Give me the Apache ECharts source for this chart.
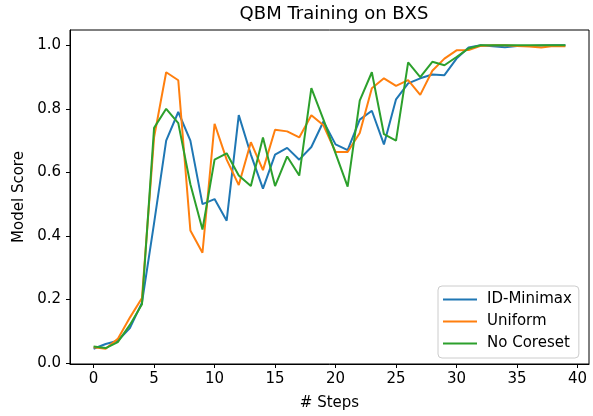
<!DOCTYPE html>
<html>
<head>
    <meta charset="UTF-8">
    <title>QBM Training on BXS</title>
    <style>
        html, body { margin: 0; padding: 0; background: #fff; }
        #chart { width: 593px; height: 416px; }
    </style>
    <script src="https://cdn.jsdelivr.net/npm/echarts@6/dist/echarts.min.js"></script>
</head>
<body>
<div id="chart"></div>
<script>
    // x ticks and y ticks
    var xTicks = [0, 5, 10, 15, 20, 25, 30, 35, 40];
    var yTicks = [0, 0.2, 0.4, 0.6, 0.8, 1.0];

    var steps = [];
    for (var i = 0; i < 40; i++) steps.push(i);

    var idMinimax = [0.045, 0.06, 0.07, 0.11, 0.19, 0.44, 0.70, 0.79, 0.70, 0.50,
                     0.516, 0.448, 0.78, 0.656, 0.549, 0.656, 0.677, 0.64, 0.68, 0.76,
                     0.688, 0.67, 0.766, 0.794, 0.688, 0.83, 0.88, 0.896, 0.908, 0.906,
                     0.958, 0.993, 1.0, 0.997, 0.994, 0.998, 0.998, 0.999, 1.0, 1.0];
    var uniform = [0.05, 0.045, 0.076, 0.143, 0.205, 0.71, 0.915, 0.89, 0.417, 0.347,
                   0.753, 0.64, 0.56, 0.695, 0.607, 0.734, 0.729, 0.71, 0.78, 0.748,
                   0.664, 0.664, 0.724, 0.865, 0.896, 0.872, 0.89, 0.844, 0.92, 0.958,
                   0.984, 0.985, 0.998, 1.0, 1.0, 0.998, 0.996, 0.993, 0.998, 0.997];
    var noCoreset = [0.052, 0.047, 0.066, 0.12, 0.185, 0.74, 0.80, 0.755, 0.5625, 0.42,
                     0.64, 0.66, 0.59, 0.557, 0.71, 0.557, 0.65, 0.59, 0.865, 0.766,
                     0.66, 0.555, 0.826, 0.915, 0.72, 0.70, 0.946, 0.90, 0.948, 0.937,
                     0.963, 0.99, 1.0, 1.0, 1.0, 1.0, 1.0, 1.0, 1.0, 1.0];

    function pairs(arr) {
        return steps.map(function (s, k) { return [s, arr[k]]; });
    }

    var font = 'DejaVu Sans';
    var myChart = echarts.init(document.getElementById('chart'));
    var option = {
        backgroundColor: '#fff',
        animation: false,
        textStyle: { fontFamily: font },
        title: {
            text: 'QBM Training on BXS',
            left: 329,
            textAlign: 'center',
            top: 0,
            textStyle: { fontFamily: font, fontSize: 18, fontWeight: 'normal', color: '#000' }
        },
        grid: {
            left: 70,
            right: 4,
            top: 30,
            bottom: 51,
            show: true,
            borderColor: '#000',
            borderWidth: 1,
            containLabel: false
        },
        legend: {
            orient: 'vertical',
            left: 438,
            top: 286,
            data: ['ID-Minimax', 'Uniform', 'No Coreset'],
            icon: 'rect',
            itemWidth: 34,
            itemHeight: 2,
            itemGap: 5,
            padding: [5, 7, 6, 5],
            backgroundColor: 'rgba(255,255,255,0.8)',
            borderColor: '#ccc',
            borderWidth: 1,
            borderRadius: 4,
            textStyle: { fontFamily: font, fontSize: 15, color: '#000', lineHeight: 17, padding: [0, 0, 0, 5] }
        },
        xAxis: {
            type: 'value',
            min: -1.95,
            max: 40.95,
            name: '# Steps',
            nameLocation: 'middle',
            nameGap: 32,
            nameTextStyle: { fontFamily: font, fontSize: 15, color: '#000' },
            axisLine: { show: true, onZero: false, lineStyle: { color: '#000', width: 1 } },
            axisTick: { show: true, length: 4, customValues: xTicks, lineStyle: { color: '#000' } },
            axisLabel: { customValues: xTicks, fontFamily: font, fontSize: 15, color: '#000', margin: 8 },
            splitLine: { show: false }
        },
        yAxis: {
            type: 'value',
            min: -0.003,
            max: 1.048,
            name: 'Model Score',
            nameLocation: 'middle',
            nameGap: 39,
            nameTextStyle: { fontFamily: font, fontSize: 15, color: '#000' },
            axisLine: { show: true, onZero: false, lineStyle: { color: '#000', width: 1 } },
            axisTick: { show: true, length: 4, customValues: yTicks, lineStyle: { color: '#000' } },
            axisLabel: {
                customValues: yTicks, fontFamily: font, fontSize: 15, color: '#000', margin: 9,
                formatter: function (v) { return v.toFixed(1); }
            },
            splitLine: { show: false }
        },
        series: [
            {
                name: 'ID-Minimax', type: 'line', symbol: 'none', color: '#1f77b4',
                lineStyle: { width: 2 }, data: pairs(idMinimax)
            },
            {
                name: 'Uniform', type: 'line', symbol: 'none', color: '#ff7f0e',
                lineStyle: { width: 2 }, data: pairs(uniform)
            },
            {
                name: 'No Coreset', type: 'line', symbol: 'none', color: '#2ca02c',
                lineStyle: { width: 2 }, data: pairs(noCoreset)
            }
        ]
    };
    myChart.setOption(option);
</script>
</body>
</html>
